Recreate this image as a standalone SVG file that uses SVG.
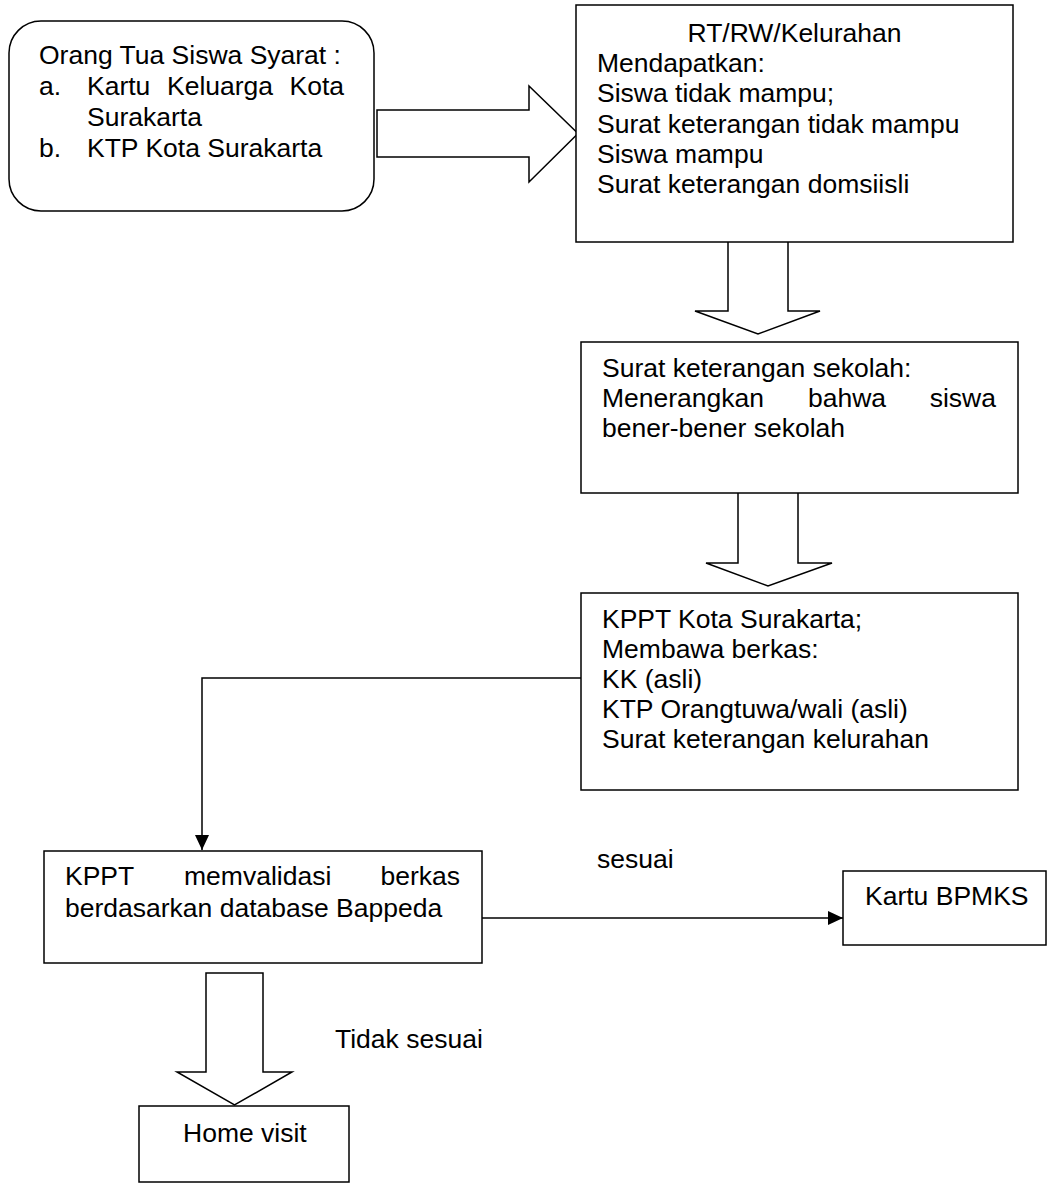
<svg xmlns="http://www.w3.org/2000/svg" width="1048" height="1183" viewBox="0 0 1048 1183">
<style>
.box{fill:#fff;stroke:#000;stroke-width:1.5}
.harrow{fill:#fff;stroke:#000;stroke-width:1.5;stroke-linejoin:miter}
.line{fill:none;stroke:#000;stroke-width:1.5}
text{font-family:"Liberation Sans",Arial,sans-serif;font-size:26.5px;fill:#000}
</style>
<defs>
<marker id="ah" markerWidth="16" markerHeight="14" refX="15" refY="7" orient="auto" markerUnits="userSpaceOnUse">
<path d="M0,0 L15,7 L0,14 Z" fill="#000"/>
</marker>
</defs>
<rect width="1048" height="1183" fill="#fff"/>
<g id="connectors">
<path class="harrow" d="M377,110 L529,110 L529,86 L578,133.5 L529,182 L529,157 L377,157 Z"/>
<path class="harrow" d="M728,242 L728,311 L695,311 L758,334 L820,311 L788,311 L788,242"/>
<path class="harrow" d="M738,493 L738,563 L706,563 L768,586 L832,563 L798,563 L798,493"/>
<path class="line" d="M581,678 L202,678 L202,850" marker-end="url(#ah)"/>
<path class="line" d="M482,918 L843,918" marker-end="url(#ah)"/>
<path class="harrow" d="M206,973 L263,973 L263,1072 L292,1072 L234.5,1105 L177,1072 L206,1072 Z"/>
<text x="597" y="868">sesuai</text>
<text x="335" y="1048">Tidak sesuai</text>
</g>
<g id="node-orangtua">
<rect class="box" x="9" y="21" width="365" height="190" rx="32" ry="32"/>
<text x="39" y="64">Orang Tua Siswa Syarat :</text>
<text y="95"><tspan x="39">a.</tspan><tspan x="87">Kartu</tspan><tspan x="167">Keluarga</tspan><tspan x="344" text-anchor="end">Kota</tspan></text>
<text x="87" y="126">Surakarta</text>
<text y="157"><tspan x="39">b.</tspan><tspan x="87">KTP Kota Surakarta</tspan></text>
</g>
<g id="node-rtrw">
<rect class="box" x="576" y="5" width="437" height="237"/>
<text x="794.5" y="42" text-anchor="middle">RT/RW/Kelurahan</text>
<text x="597" y="72">Mendapatkan:</text>
<text x="597" y="102">Siswa tidak mampu;</text>
<text x="597" y="133">Surat keterangan tidak mampu</text>
<text x="597" y="163">Siswa mampu</text>
<text x="597" y="193">Surat keterangan domsiisli</text>
</g>
<g id="node-sekolah">
<rect class="box" x="581" y="342" width="437" height="151"/>
<text x="602" y="377">Surat keterangan sekolah:</text>
<text y="407"><tspan x="602">Menerangkan</tspan><tspan x="808">bahwa</tspan><tspan x="996" text-anchor="end">siswa</tspan></text>
<text x="602" y="437">bener-bener sekolah</text>
</g>
<g id="node-kppt">
<rect class="box" x="581" y="593" width="437" height="197"/>
<text x="602" y="628">KPPT Kota Surakarta;</text>
<text x="602" y="658">Membawa berkas:</text>
<text x="602" y="688">KK (asli)</text>
<text x="602" y="718">KTP Orangtuwa/wali (asli)</text>
<text x="602" y="748">Surat keterangan kelurahan</text>
</g>
<g id="node-validasi">
<rect class="box" x="44" y="851" width="438" height="112"/>
<text y="885"><tspan x="65">KPPT</tspan><tspan x="184">memvalidasi</tspan><tspan x="460" text-anchor="end">berkas</tspan></text>
<text x="65" y="917">berdasarkan database Bappeda</text>
</g>
<g id="node-kartu">
<rect class="box" x="843" y="871" width="203" height="74"/>
<text x="865" y="905">Kartu BPMKS</text>
</g>
<g id="node-home">
<rect class="box" x="139" y="1106" width="210" height="76"/>
<text x="183" y="1142">Home visit</text>
</g>
</svg>
